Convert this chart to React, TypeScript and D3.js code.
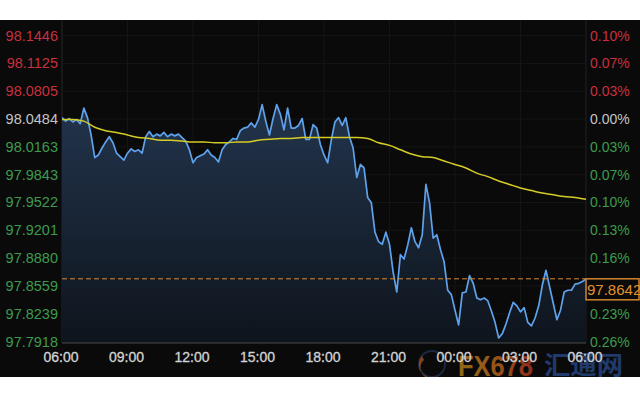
import React from 'react';
import * as d3 from 'd3';

// ---- data ----
const leftTicks = ['98.1446', '98.1125', '98.0805', '98.0484', '98.0163', '97.9843', '97.9522', '97.9201', '97.8880', '97.8559', '97.8239', '97.7918'];
const pctTicks = ['0.10%', '0.07%', '0.03%', '0.00%', '0.03%', '0.07%', '0.10%', '0.13%', '0.16%', '0.20%', '0.23%', '0.26%'];
const refPrice = 98.0484;
const lastPrice = 97.8642;
const lastLabel = '97.8642';

// price every 10 minutes from 06:00 to 06:00 next day
const priceStepMin = 10;
const prices = [
  98.050, 98.046, 98.049, 98.045, 98.048, 98.043, 98.061, 98.050, 98.030, 98.004,
  98.007, 98.015, 98.022, 98.028, 98.021, 98.009, 98.005, 98.001, 98.009, 98.014,
  98.011, 98.013, 98.009, 98.028, 98.034, 98.028, 98.031, 98.029, 98.033, 98.028,
  98.031, 98.029, 98.031, 98.027, 98.023, 98.013, 97.998, 98.004, 98.006, 98.008,
  98.013, 98.007, 98.004, 97.999, 98.013, 98.019, 98.022, 98.026, 98.025, 98.035,
  98.038, 98.039, 98.044, 98.039, 98.048, 98.065, 98.046, 98.030, 98.049, 98.065,
  98.054, 98.036, 98.061, 98.038, 98.038, 98.041, 98.049, 98.025, 98.025, 98.042,
  98.038, 98.019, 98.007, 97.998, 98.024, 98.045, 98.050, 98.041, 98.050, 98.028,
  98.015, 97.981, 97.996, 97.992, 97.958, 97.952, 97.918, 97.907, 97.904, 97.918,
  97.904, 97.872, 97.849, 97.892, 97.887, 97.903, 97.923, 97.907, 97.900, 97.915,
  97.973, 97.952, 97.911, 97.915, 97.898, 97.884, 97.851, 97.846, 97.828, 97.811,
  97.848, 97.849, 97.868, 97.859, 97.842, 97.840, 97.842, 97.839, 97.827, 97.814,
  97.796, 97.801, 97.812, 97.825, 97.837, 97.833, 97.826, 97.831, 97.814, 97.810,
  97.819, 97.833, 97.857, 97.874, 97.855, 97.836, 97.817, 97.828, 97.849, 97.851,
  97.851, 97.858, 97.859, 97.861, 97.864,
];

// moving average every 30 minutes
const maStepMin = 30;
const maValues = [
  98.048, 98.048, 98.046, 98.039, 98.035, 98.033, 98.030, 98.027, 98.026, 98.024,
  98.024, 98.023, 98.022, 98.022, 98.021, 98.021, 98.022, 98.022, 98.024, 98.025,
  98.026, 98.026, 98.027, 98.027, 98.027, 98.027, 98.027, 98.027, 98.026, 98.021,
  98.018, 98.013, 98.008, 98.005, 98.004, 98.000, 97.996, 97.992, 97.986, 97.982,
  97.977, 97.973, 97.969, 97.966, 97.963, 97.961, 97.959, 97.958, 97.956,
];

const wmBrand = 'FX678';
const wmName = '汇通网';

const FONT = '"Liberation Sans", Arial, sans-serif';

export default function App() {
  const W = 640, H = 400;
  const bgT = 20, bgB = 377;
  const plotL = 62, plotR = 586, plotT = 20, plotB = 343;

  const t0 = new Date(2000, 0, 1, 6, 0);
  const t1 = new Date(2000, 0, 2, 6, 0);
  const x = d3.scaleTime().domain([t0, t1]).range([plotL, plotR]);
  const y = d3.scaleLinear()
    .domain([+leftTicks[leftTicks.length - 1], +leftTicks[0]])
    .range([341.6, 35.6]);

  const pts = prices.map((v, i) => ({ t: d3.timeMinute.offset(t0, i * priceStepMin), v }));
  const maPts = maValues.map((v, i) => ({ t: d3.timeMinute.offset(t0, i * maStepMin), v }));

  const line = d3.line<{ t: Date; v: number }>().x(d => x(d.t)).y(d => y(d.v));
  const area = d3.area<{ t: Date; v: number }>().x(d => x(d.t)).y0(plotB).y1(d => y(d.v));
  const maLine = d3.line<{ t: Date; v: number }>().x(d => x(d.t)).y(d => y(d.v)).curve(d3.curveMonotoneX);

  const timeTicks = x.ticks(d3.timeHour.every(3) as any);
  const fmt = d3.timeFormat('%H:%M');

  const colorFor = (v: number) => (Math.abs(v - refPrice) < 1e-6 ? '#c4c4c4' : v > refPrice ? '#c8303e' : '#3e9a4e');

  const yLast = y(lastPrice);
  const boxH = 21;
  // the last-price box covers the right-axis label that falls under it
  const hiddenByBox = (yy: number) => yy > yLast - 4 && yy < yLast + boxH + 4;

  return (
    <svg width={W} height={H} style={{ position: 'absolute', left: 0, top: 0, display: 'block' }} fontFamily={FONT}>
      <defs>
        <linearGradient id="areaGrad" x1="0" y1="0" x2="0" y2="1">
          <stop offset="0%" stopColor="#22344c" />
          <stop offset="100%" stopColor="#0e141c" />
        </linearGradient>
        <linearGradient id="wmGrad" x1="0" y1="0" x2="1" y2="0">
          <stop offset="0%" stopColor="#a8781c" />
          <stop offset="45%" stopColor="#b0661c" />
          <stop offset="100%" stopColor="#a8321c" />
        </linearGradient>
        <clipPath id="plotClip">
          <rect x={plotL} y={plotT} width={plotR - plotL} height={plotB - plotT} />
        </clipPath>
        <clipPath id="bgClip">
          <rect x={0} y={bgT} width={W} height={bgB - bgT} />
        </clipPath>
      </defs>

      <rect x={0} y={0} width={W} height={H} fill="#ffffff" />
      <rect x={0} y={bgT} width={W} height={bgB - bgT} fill="#0a0a0a" />

      {/* grid */}
      {leftTicks.map((s, i) => (
        <line key={'hg' + i} x1={plotL} x2={plotR} y1={y(+s)} y2={y(+s)} stroke="#151515" strokeWidth={1} />
      ))}
      {timeTicks.map((t, i) => (
        <line key={'vg' + i} x1={x(t)} x2={x(t)} y1={plotT} y2={plotB} stroke="#151515" strokeWidth={1} />
      ))}
      <line x1={plotL} x2={plotL} y1={plotT} y2={plotB} stroke="#222" strokeWidth={1} />
      <line x1={plotR} x2={plotR} y1={plotT} y2={plotB} stroke="#1c1c1c" strokeWidth={1} />

      {/* series */}
      <g clipPath="url(#plotClip)">
        <path d={area(pts) || ''} fill="url(#areaGrad)" />
        <path d={line(pts) || ''} fill="none" stroke="#5fa2ec" strokeWidth={1.7} strokeLinejoin="round" />
        <path d={maLine(maPts) || ''} fill="none" stroke="#d6cc26" strokeWidth={1.5} />
        <line x1={plotL} x2={plotR} y1={yLast} y2={yLast} stroke="#d98a2e" strokeWidth={1} strokeDasharray="5,3" />
      </g>

      <line x1={plotL} x2={plotR} y1={plotB} y2={plotB} stroke="#4a4a4a" strokeWidth={1} />

      {/* watermark */}
      <g clipPath="url(#bgClip)" opacity={0.85}>
        <circle cx={432} cy={364} r={13} fill="none" stroke="#2a3d66" strokeWidth={2} opacity={0.7} />
        <path d="M 422 356 A 13 13 0 0 0 438 376 A 10 10 0 0 1 424 360 Z" fill="#b8561c" opacity={0.85} />
        <text x={458} y={376} fontSize={30} fontWeight="bold" fill="url(#wmGrad)" textLength={75} lengthAdjust="spacingAndGlyphs">{wmBrand}</text>
        <text x={544} y={374} fontSize={25} fontWeight="bold" fill="#24437e" fontFamily='"Noto Sans CJK SC", sans-serif' textLength={79} lengthAdjust="spacingAndGlyphs">{wmName}</text>
      </g>

      {/* left axis labels */}
      {leftTicks.map((s, i) => (
        <text key={'lt' + i} x={58} y={y(+s) + 5} textAnchor="end" fontSize={14.5} fill={colorFor(+s)}>{s}</text>
      ))}
      {/* right axis labels */}
      {pctTicks.map((s, i) => (
        hiddenByBox(y(+leftTicks[i])) ? null : (
          <text key={'rt' + i} x={590} y={y(+leftTicks[i]) + 5} fontSize={14} fill={colorFor(+leftTicks[i])}>{s}</text>
        )
      ))}

      {/* last price label */}
      <rect x={586} y={yLast} width={53} height={boxH} fill="#0a0a0a" stroke="#d08530" strokeWidth={1.5} />
      <text x={587} y={yLast + 16} fontSize={15} fill="#e0922e">{lastLabel}</text>

      {/* time axis labels */}
      {timeTicks.map((t, i) => (
        <text key={'tt' + i} x={x(t) - 1} y={362} textAnchor="middle" fontSize={14} fill="#d2d2d2" stroke="#d2d2d2" strokeWidth={0.3}>{fmt(t)}</text>
      ))}
    </svg>
  );
}
